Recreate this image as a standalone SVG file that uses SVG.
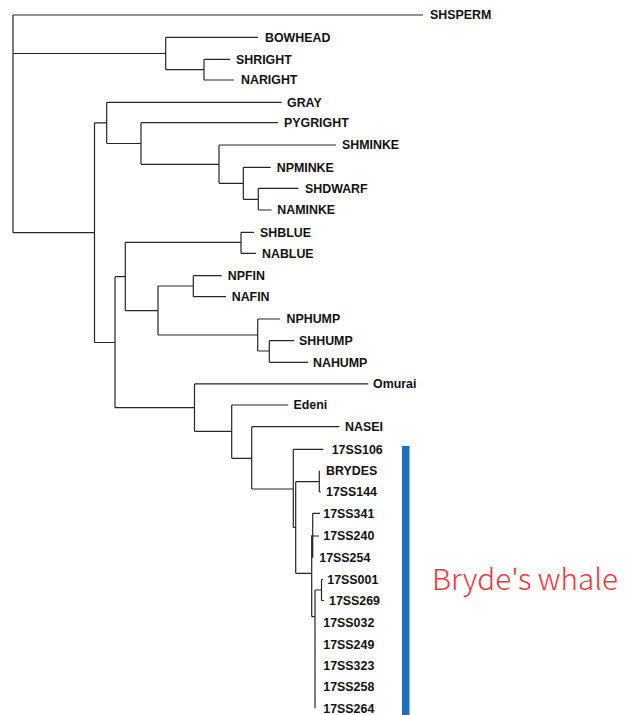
<svg xmlns="http://www.w3.org/2000/svg" width="630" height="715" viewBox="0 0 630 715">
<style>
.t{font-family:"Liberation Sans",Arial,sans-serif;font-weight:bold;font-size:12.4px;fill:#111}
.e{fill:none;stroke:#262626;stroke-width:1.2}
.lbl{font-family:"Noto Sans CJK JP","Noto Sans",sans-serif;font-weight:300;font-size:29px;fill:#e8383d}
</style>
<rect width="630" height="715" fill="#fff"/>
<g id="connectors">
<path class="e" d="
M13 15H423 M13 15V232.7
M13 53.5H165.7 M165.7 37.3V69.7 M165.7 37.3H258 M165.7 69.7H204 M204 59.3V80 M204 59.3H230 M204 80H234
M13 232.7H94.5 M94.5 122.8V342.5
M94.5 122.8H106.7 M106.7 102.3V143.5 M106.7 102.3H281.7
M106.7 143.5H141 M141 122.7V164.3 M141 122.7H278
M141 164.3H219 M219 145V183.3 M219 145H336
M219 183.3H243.3 M243.3 167.3V199.3 M243.3 167.3H270.7
M243.3 199.3H258.3 M258.3 188.3V210 M258.3 188.3H298.3 M258.3 210H271.7
M94.5 342.5H115 M115 276.7V407.7
M115 276.7H125.3 M125.3 242.3V310.7
M125.3 242.3H241 M241 232.3V253.3 M241 232.3H254 M241 253.3H256
M125.3 310.7H158 M158 286V335
M158 286H193.3 M193.3 275.7V296.7 M193.3 275.7H221.7 M193.3 296.7H226
M158 335H257.7 M257.7 319V351 M257.7 319H280
M257.7 351H269.3 M269.3 340.7V362.3 M269.3 340.7H294 M269.3 362.3H308.3
M115 407.7H194.5 M194.5 383.8V431.3 M194.5 383.8H368.3
M194.5 431.3H231.7 M231.7 405V458.3 M231.7 405H288.3
M231.7 458.3H251.7 M251.7 426.7V489 M251.7 426.7H339.3
M251.7 489H293.3 M293.3 449.3V527.5 M293.3 449.3H323.3
M293.3 527.5H295.7 M295.7 481.7V573.3
M295.7 481.7H319.3 M319.3 470.7V492 M319.3 492H321
M295.7 573.3H311.7 M311.7 535.5V616.7
M311.7 535.5H312.7 M312.7 513.3V557.7 M312.7 513.3H320 M312.7 536H319
M311.7 616.7H315 M315 590V708.3
M315 590H321.5 M321.5 579.5V600.5 M321.5 579.5H323 M321.5 600.5H324
"/>
</g>
<g id="SHSPERM"><text class="t" x="430" y="19.4">SHSPERM</text></g>
<g id="BOWHEAD"><text class="t" x="265" y="41.7">BOWHEAD</text></g>
<g id="SHRIGHT"><text class="t" x="236" y="63.7">SHRIGHT</text></g>
<g id="NARIGHT"><text class="t" x="241" y="84.4">NARIGHT</text></g>
<g id="GRAY"><text class="t" x="287" y="106.7">GRAY</text></g>
<g id="PYGRIGHT"><text class="t" x="284" y="127.1">PYGRIGHT</text></g>
<g id="SHMINKE"><text class="t" x="342" y="149.4">SHMINKE</text></g>
<g id="NPMINKE"><text class="t" x="276.7" y="171.7">NPMINKE</text></g>
<g id="SHDWARF"><text class="t" x="305" y="192.7">SHDWARF</text></g>
<g id="NAMINKE"><text class="t" x="277.3" y="214.4">NAMINKE</text></g>
<g id="SHBLUE"><text class="t" x="260" y="236.7">SHBLUE</text></g>
<g id="NABLUE"><text class="t" x="262" y="257.7">NABLUE</text></g>
<g id="NPFIN"><text class="t" x="227.7" y="280.1">NPFIN</text></g>
<g id="NAFIN"><text class="t" x="231.7" y="301.1">NAFIN</text></g>
<g id="NPHUMP"><text class="t" x="286.5" y="323.4">NPHUMP</text></g>
<g id="SHHUMP"><text class="t" x="299" y="345.1">SHHUMP</text></g>
<g id="NAHUMP"><text class="t" x="313" y="366.7">NAHUMP</text></g>
<g id="Omurai"><text class="t" x="373" y="388.2">Omurai</text></g>
<g id="Edeni"><text class="t" x="293.5" y="409.4">Edeni</text></g>
<g id="NASEI"><text class="t" x="345" y="431.1">NASEI</text></g>
<g id="n17SS106"><text class="t" x="331.7" y="453.7">17SS106</text></g>
<g id="BRYDES"><text class="t" x="326" y="475.1">BRYDES</text></g>
<g id="n17SS144"><text class="t" x="326" y="496.4">17SS144</text></g>
<g id="n17SS341"><text class="t" x="323.3" y="517.7">17SS341</text></g>
<g id="n17SS240"><text class="t" x="323.3" y="540.4">17SS240</text></g>
<g id="n17SS254"><text class="t" x="319.3" y="562.1">17SS254</text></g>
<g id="n17SS001"><text class="t" x="327.3" y="584.4">17SS001</text></g>
<g id="n17SS269"><text class="t" x="329" y="605.4">17SS269</text></g>
<g id="n17SS032"><text class="t" x="323.3" y="627.1">17SS032</text></g>
<g id="n17SS249"><text class="t" x="323.3" y="648.7">17SS249</text></g>
<g id="n17SS323"><text class="t" x="323.3" y="670.1">17SS323</text></g>
<g id="n17SS258"><text class="t" x="323.3" y="691.4">17SS258</text></g>
<g id="n17SS264"><text class="t" x="323.3" y="712.7">17SS264</text></g>
<g id="brydes-bar">
<rect x="402" y="446" width="7.5" height="269" fill="#1f6fbe"/>
<text class="lbl" x="432" y="590" textLength="186" lengthAdjust="spacingAndGlyphs">Bryde's whale</text>
</g>
</svg>
